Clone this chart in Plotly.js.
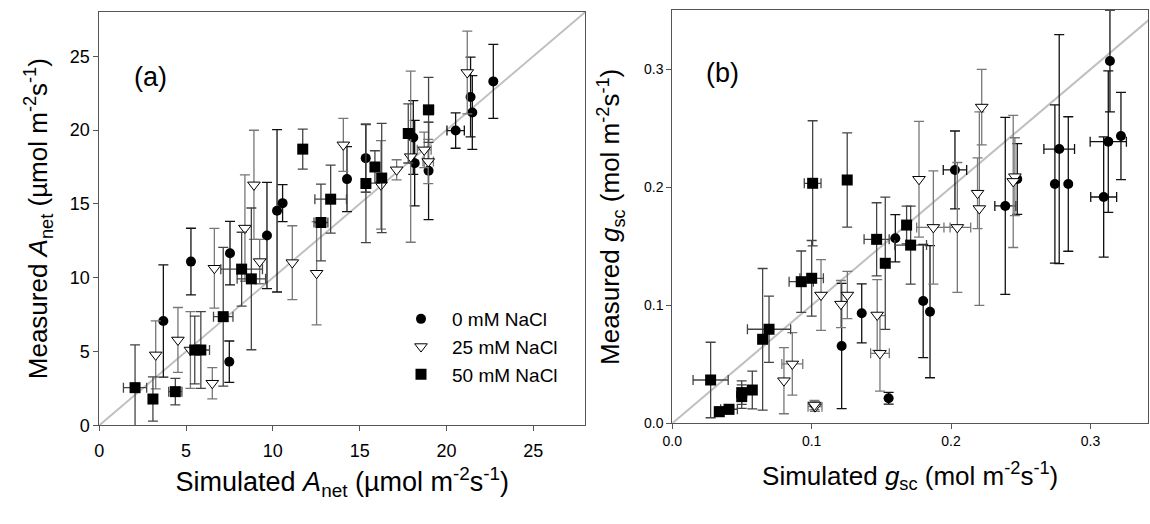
<!DOCTYPE html>
<html><head><meta charset="utf-8">
<script src="https://cdn.plot.ly/plotly-3.0.1.min.js"></script>
<style>html,body{margin:0;padding:0;background:#fff;overflow:hidden}</style>
</head><body><div id="chart" style="width:1150px;height:524px"></div>
<script>
// ---------- Panel (a): Anet ----------
const aCircX  = [3.69, 5.28, 7.53, 7.49, 9.66, 10.24, 10.56, 14.27, 15.35, 18.09, 18.17, 18.97, 20.53, 21.49, 21.39, 22.70];
const aCircY  = [7.07, 11.09, 11.66, 4.31, 12.86, 14.53, 15.05, 16.68, 18.10, 19.50, 17.76, 17.24, 19.97, 21.19, 22.24, 23.30];
const aCircEy = [3.8, 2.26, 2.15, 1.4, 3.6, 5.5, 1.25, 2.2, 2.3, 2.5, 2.9, 3.3, 1.2, 2.5, 2.7, 2.5];
const aCircEx = [null, null, null, null, null, null, null, null, null, null, null, null, 0.5, null, null, null];

const aTriX  = [3.25, 4.53, 5.25, 6.51, 6.63, 8.39, 8.91, 9.24, 11.12, 12.52, 14.06, 16.23, 17.13, 17.94, 18.72, 18.95, 21.20];
const aTriY  = [4.77, 5.78, 5.10, 2.85, 10.64, 13.36, 16.29, 11.09, 11.02, 10.30, 19.00, 16.29, 17.31, 18.20, 18.66, 17.87, 23.90];
const aTriEy = [2.3, 2.2, 2.6, 1.06, 2.7, 3.6, 3.7, 1.5, 2.5, 3.5, 1.8, 3.0, 0.68, 5.8, 1.2, 1.5, 2.8];
const aTriEx = [null, null, null, null, null, null, null, null, null, null, null, null, null, null, 0.4, 0.3, null];

const aSqX  = [2.06, 3.09, 4.38, 5.50, 5.85, 7.14, 8.20, 8.76, 11.72, 12.77, 13.33, 15.36, 15.88, 16.27, 17.80, 18.97];
const aSqY  = [2.55, 1.78, 2.28, 5.10, 5.10, 7.36, 10.58, 9.92, 18.71, 13.74, 15.32, 16.38, 17.50, 16.75, 19.77, 21.37];
const aSqEy = [2.9, 1.5, 0.9, 2.3, 2.6, 4.7, 2.5, 4.8, 1.36, 2.6, 2.3, 4.0, 1.1, 3.7, 2.0, 2.2];
const aSqEx = [0.67, null, 0.38, null, 0.5, 0.56, 1.2, 0.82, null, 0.4, 0.91, null, null, null, null, 0.29];

const aLine = [0, 28];

// ---------- Panel (b): gsc ----------
const bCircX  = [0.1215, 0.1359, 0.1552, 0.1600, 0.1800, 0.1849, 0.2028, 0.2389, 0.2475, 0.2776, 0.2745, 0.2841, 0.3128, 0.3219, 0.3095, 0.3140];
const bCircY  = [0.0655, 0.0932, 0.0212, 0.1568, 0.1036, 0.0946, 0.2147, 0.1842, 0.2070, 0.2324, 0.2028, 0.2028, 0.2387, 0.2435, 0.1918, 0.3070];
const bCircEy = [0.053, 0.025, 0.005, 0.02, 0.048, 0.056, 0.033, 0.075, 0.03, 0.097, 0.067, 0.057, 0.06, 0.037, 0.051, 0.043];
const bCircEx = [null, null, null, null, null, null, 0.0084, 0.0075, null, 0.011, null, null, 0.013, null, 0.0093, null];

const bTriX  = [0.0801, 0.0861, 0.1024, 0.1020, 0.1067, 0.1210, 0.1256, 0.1470, 0.1490, 0.1770, 0.1873, 0.2045, 0.2190, 0.2203, 0.2220, 0.2458, 0.2446];
const bTriY  = [0.0361, 0.0503, 0.0141, 0.0155, 0.1087, 0.1010, 0.1087, 0.0918, 0.0593, 0.2068, 0.1660, 0.1660, 0.1950, 0.1820, 0.2680, 0.2090, 0.2050];
const bTriEy = [0.028, 0.0265, 0.004, 0.004, 0.03, 0.02, 0.02, 0.03, 0.032, 0.049, 0.048, 0.055, 0.03, 0.082, 0.032, 0.033, 0.056];
const bTriEx = [null, 0.0075, 0.005, null, null, null, null, null, 0.0067, null, 0.012, 0.0096, null, null, null, null, null];

const bSqX  = [0.0275, 0.0337, 0.0407, 0.0498, 0.0498, 0.0574, 0.0648, 0.0694, 0.0925, 0.1000, 0.1007, 0.1255, 0.1466, 0.1528, 0.1681, 0.1710];
const bSqY  = [0.0367, 0.0098, 0.0119, 0.0260, 0.0226, 0.0282, 0.0712, 0.0797, 0.1200, 0.1229, 0.2034, 0.2062, 0.1559, 0.1356, 0.1680, 0.1510];
const bSqEy = [0.032, 0.004, 0.004, 0.01, 0.01, 0.016, 0.06, 0.028, 0.026, 0.032, 0.053, 0.040, 0.031, 0.056, 0.016, 0.033];
const bSqEx = [0.0126, null, 0.006, null, null, null, null, 0.0155, 0.0087, 0.0084, 0.006, null, 0.009, null, null, 0.0114];

const bLine = [0, 0.35];

const legendNames = ['0 mM NaCl', '25 mM NaCl', '50 mM NaCl'];

// ---------- build ----------
const FONT = 'Liberation Sans, Arial, sans-serif';
const nan = a => a.map(v => (v === null ? NaN : v));

function series(x, y, ey, ex, kind, xa, ya, showLeg, name) {
  const sym = {circ: 'circle', tri: 'triangle-down', sq: 'square'}[kind];
  const ebColor = {circ: '#111', tri: '#777', sq: '#444'}[kind];
  return {
    type: 'scatter', mode: 'markers', x: x, y: y, xaxis: xa, yaxis: ya,
    name: name, showlegend: showLeg, cliponaxis: false,
    marker: {
      symbol: sym,
      size: kind === 'circ' ? 10 : 11,
      color: kind === 'tri' ? '#ffffff' : '#000000',
      line: {color: '#000', width: kind === 'tri' ? 1 : 0}
    },
    error_y: {type: 'data', array: nan(ey), visible: true, color: ebColor, thickness: 1.3, width: 5},
    error_x: {type: 'data', array: nan(ex), visible: true, color: ebColor, thickness: 1.3, width: 5}
  };
}

const traces = [
  {type: 'scatter', mode: 'lines', x: aLine, y: aLine, xaxis: 'x', yaxis: 'y', showlegend: false,
   line: {color: '#c0c0c0', width: 2}, hoverinfo: 'skip'},
  {type: 'scatter', mode: 'lines', x: bLine, y: bLine, xaxis: 'x2', yaxis: 'y2', showlegend: false,
   line: {color: '#c0c0c0', width: 2}, hoverinfo: 'skip'},
  series(aCircX, aCircY, aCircEy, aCircEx, 'circ', 'x', 'y', true, legendNames[0]),
  series(aTriX, aTriY, aTriEy, aTriEx, 'tri', 'x', 'y', true, legendNames[1]),
  series(aSqX, aSqY, aSqEy, aSqEx, 'sq', 'x', 'y', true, legendNames[2]),
  series(bCircX, bCircY, bCircEy, bCircEx, 'circ', 'x2', 'y2', false, legendNames[0]),
  series(bTriX, bTriY, bTriEy, bTriEx, 'tri', 'x2', 'y2', false, legendNames[1]),
  series(bSqX, bSqY, bSqEy, bSqEx, 'sq', 'x2', 'y2', false, legendNames[2])
];

const W = 1150, H = 524;
const px = v => v / W, py = v => 1 - v / H;

const axBase = {
  showgrid: false, zeroline: false, showline: true, linecolor: '#555', linewidth: 1,
  ticks: 'outside', ticklen: 5, tickcolor: '#555', mirror: true
};

const layout = {
  width: W, height: H, margin: {l: 0, r: 0, t: 0, b: 0},
  paper_bgcolor: '#fff', plot_bgcolor: '#fff',
  font: {family: FONT, color: '#000'},
  showlegend: true,
  legend: {x: px(390), y: py(300), xanchor: 'left', yanchor: 'top',
    font: {family: FONT, size: 19, color: '#000'}, itemwidth: 52, bgcolor: 'rgba(0,0,0,0)'},
  xaxis: Object.assign({}, axBase, {
    domain: [px(99.3), px(585.3)], range: [0, 28], tickvals: [0, 5, 10, 15, 20, 25],
    tickfont: {size: 18, family: FONT}, anchor: 'y', ticklabelstandoff: 4,
    title: {text: 'Simulated <i>A</i><sub>net</sub> (µmol m<sup>-2</sup>s<sup>-1</sup>)', font: {size: 27, family: FONT}, standoff: 12}
  }),
  yaxis: Object.assign({}, axBase, {
    domain: [py(425.3), py(12)], range: [0, 28], tickvals: [0, 5, 10, 15, 20, 25],
    tickfont: {size: 18, family: FONT}, anchor: 'x',
    title: {text: 'Measured <i>A</i><sub>net</sub> (µmol m<sup>-2</sup>s<sup>-1</sup>)', font: {size: 26, family: FONT}, standoff: 14}
  }),
  xaxis2: Object.assign({}, axBase, {
    domain: [px(672.3), px(1148)], range: [0, 0.3413], tickvals: [0, 0.1, 0.2, 0.3],
    ticktext: ['0.0', '0.1', '0.2', '0.3'], tickmode: 'array',
    tickfont: {size: 14, family: FONT}, anchor: 'y2',
    title: {text: 'Simulated <i>g</i><sub>sc</sub> (mol m<sup>-2</sup>s<sup>-1</sup>)', font: {size: 26, family: FONT}, standoff: 18}
  }),
  yaxis2: Object.assign({}, axBase, {
    domain: [py(423.3), py(10.3)], range: [0, 0.35], tickvals: [0, 0.1, 0.2, 0.3],
    ticktext: ['0.0', '0.1', '0.2', '0.3'], tickmode: 'array',
    tickfont: {size: 14, family: FONT}, anchor: 'x2',
    title: {text: 'Measured <i>g</i><sub>sc</sub> (mol m<sup>-2</sup>s<sup>-1</sup>)', font: {size: 26, family: FONT}, standoff: 16}
  }),
  annotations: [
    {text: '(a)', xref: 'paper', yref: 'paper', x: px(150), y: py(77), showarrow: false,
     font: {size: 27, family: FONT}, xanchor: 'center', yanchor: 'middle'},
    {text: '(b)', xref: 'paper', yref: 'paper', x: px(722), y: py(73), showarrow: false,
     font: {size: 27, family: FONT}, xanchor: 'center', yanchor: 'middle'}
  ]
};

Plotly.newPlot('chart', traces, layout, {displayModeBar: false, staticPlot: true});
</script></body></html>
